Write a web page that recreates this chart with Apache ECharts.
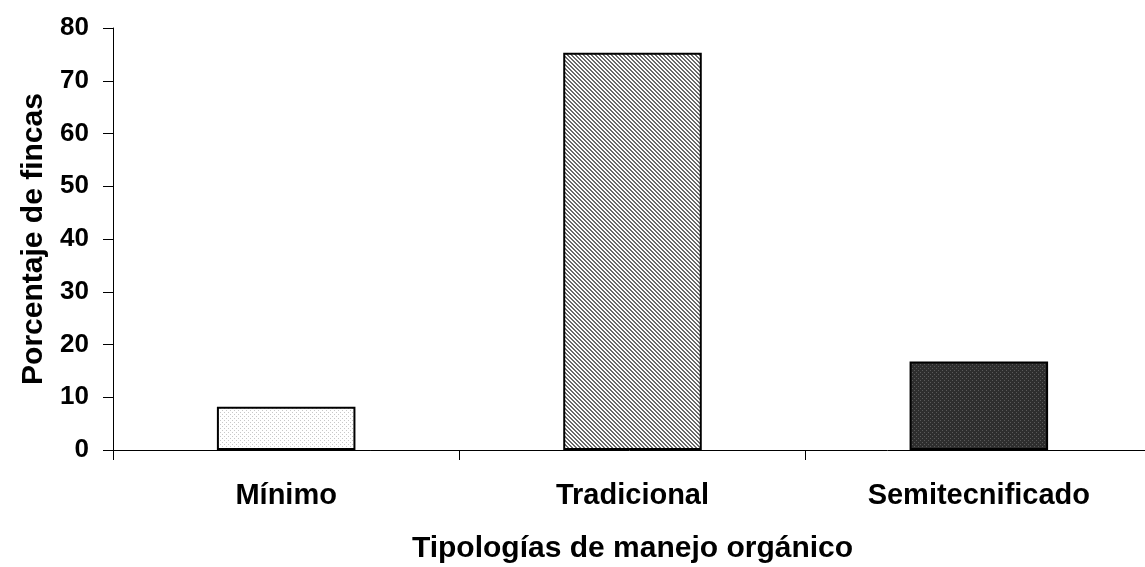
<!DOCTYPE html>
<html><head><meta charset="utf-8">
<script src="https://cdn.jsdelivr.net/npm/echarts@6/dist/echarts.min.js"></script>
<style>html,body{margin:0;padding:0;background:#fff}#c{width:1145px;height:567px}</style>
</head><body><div id="c"></div>
<script>
const categories = ['Mínimo', 'Tradicional', 'Semitecnificado'];
const values = [8.2, 75.3, 16.8];
const yTicks = [0, 10, 20, 30, 40, 50, 60, 70, 80];

function pattern(bg, fg, draw) {
  const c = document.createElement('canvas');
  c.width = 4; c.height = 4;
  const g = c.getContext('2d');
  g.fillStyle = bg; g.fillRect(0, 0, 4, 4);
  g.fillStyle = fg;
  draw(g);
  return { image: c, repeat: 'repeat' };
}
const pDots = pattern('#ffffff', '#c8c8c8', g => { g.fillRect(0,0,1,1); g.fillRect(2,2,1,1); });
const pHatch = pattern('#ffffff', '#6a6a6a', g => { for (let i=0;i<4;i++){ g.fillRect(i,i,1,1); g.fillRect((i+1)%4,i,1,1);} });
const pDark = pattern('#2e2e2e', '#5a5a5a', g => { g.fillRect(0,0,1,1); g.fillRect(2,2,1,1); });
const fills = [pDots, pHatch, pDark];

const chart = echarts.init(document.getElementById('c'), null, {renderer: 'canvas'});
const font = 'Liberation Sans, Arial, sans-serif';
chart.setOption({
  animation: false,
  grid: { left: 113, top: 28, bottom: 117, right: -7, containLabel: false, outerBoundsMode: 'none' },
  xAxis: {
    type: 'category', data: categories,
    name: 'Tipologías de manejo orgánico', nameLocation: 'middle', nameGap: 84,
    nameTextStyle: { fontFamily: font, fontWeight: 'bold', fontSize: 30, color: '#000' },
    axisLine: { lineStyle: { color: '#000', width: 1 } },
    axisTick: { show: true, length: 10, lineStyle: { color: '#000' } },
    axisLabel: { fontFamily: font, fontWeight: 'bold', fontSize: 29, color: '#000', margin: 31 }
  },
  yAxis: {
    type: 'value', min: yTicks[0], max: yTicks[yTicks.length-1], interval: 10,
    name: 'Porcentaje de fincas', nameLocation: 'middle', nameGap: 63, nameRotate: 90,
    nameTextStyle: { fontFamily: font, fontWeight: 'bold', fontSize: 30, color: '#000' },
    axisLine: { show: true, lineStyle: { color: '#000', width: 1 } },
    axisTick: { show: true, length: 10, lineStyle: { color: '#000' } },
    splitLine: { show: false },
    axisLabel: { fontFamily: font, fontWeight: 'bold', fontSize: 26, color: '#000', margin: 24 }
  },
  series: [{
    type: 'bar', barWidth: '40%',
    data: values.map((v, i) => ({ value: v, itemStyle: { color: fills[i], borderColor: '#000', borderWidth: 2 } }))
  }]
});
</script></body></html>
